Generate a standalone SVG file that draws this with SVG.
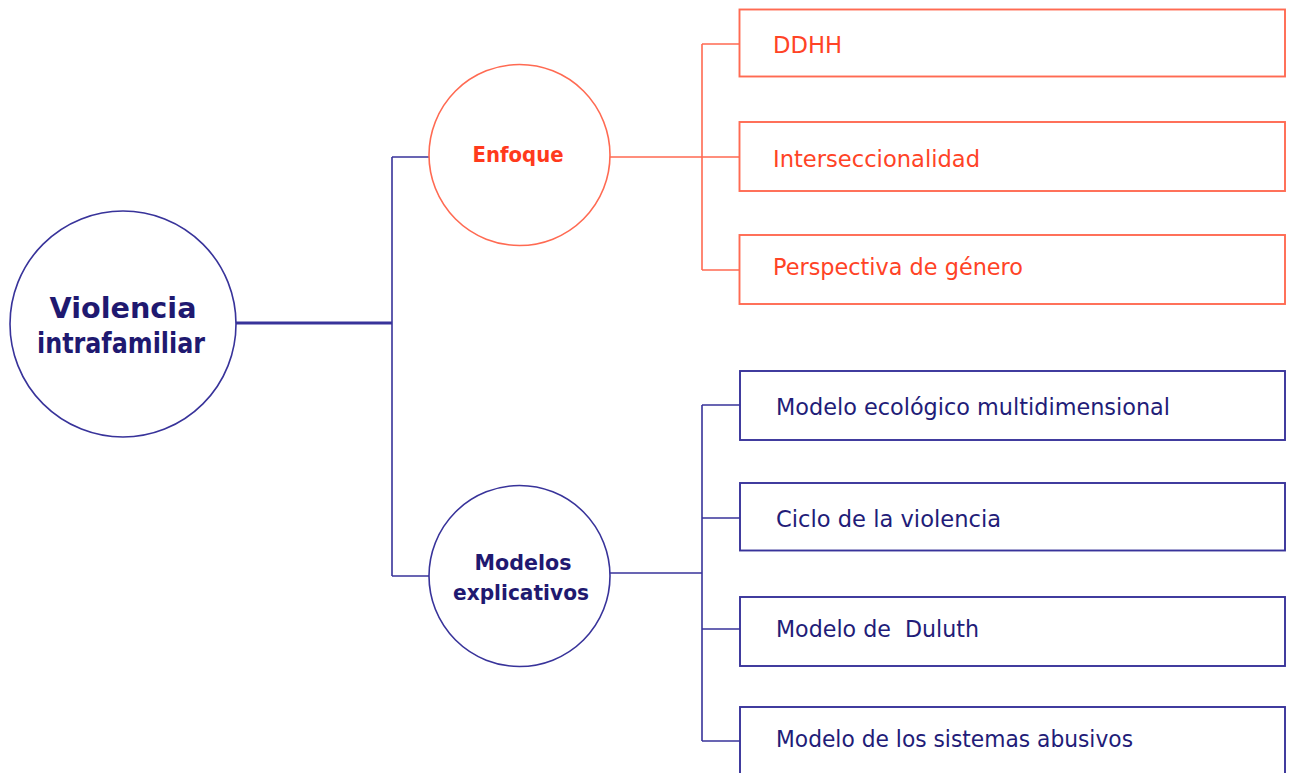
<svg xmlns="http://www.w3.org/2000/svg" width="1294" height="773" viewBox="0 0 1294 773">
<style>
.bg{fill:#ffffff}
.red{stroke:#ff6a52;fill:none;stroke-width:1.6}
.navy{stroke:#38339a;fill:none;stroke-width:1.6}
.thick{stroke-width:2.8}
.circ{fill:#ffffff}
.box{fill:#ffffff;stroke-width:1.9}
.lblR{font-family:"DejaVu Sans",Verdana,sans-serif;font-size:23px;fill:#ff4326;white-space:pre}
.lblN{font-family:"DejaVu Sans",Verdana,sans-serif;font-size:23px;fill:#221c78;white-space:pre}
.hd{font-family:"DejaVu Sans","Liberation Sans",sans-serif;font-weight:bold;text-anchor:middle}
</style>
<rect class="bg" x="0" y="0" width="1294" height="773"/>
<g id="connectors">
  <path class="navy thick" d="M236,323 H392"/>
  <path class="navy" d="M392,157 V576 M392,157 H429 M392,576 H429"/>
  <path class="red" d="M610,157 H740 M702,44 V270 M702,44 H740 M702,270 H740"/>
  <path class="navy" d="M610,573 H702 M702,405 V741 M702,405 H740 M702,518 H740 M702,629 H740 M702,741 H740"/>
</g>
<g id="root">
  <circle class="navy circ" cx="123" cy="324" r="113"/>
  <text class="hd" x="123" y="318" font-size="29" fill="#1f1970" textLength="147" lengthAdjust="spacingAndGlyphs">Violencia</text>
  <text class="hd" x="121" y="353" font-size="29" fill="#1f1970" textLength="168" lengthAdjust="spacingAndGlyphs">intrafamiliar</text>
</g>
<g id="enfoque">
  <circle class="red circ" cx="519.5" cy="155" r="90.5"/>
  <text class="hd" x="518" y="161.5" font-size="22" fill="#ff3a1c" textLength="91" lengthAdjust="spacingAndGlyphs">Enfoque</text>
</g>
<g id="modelos">
  <circle class="navy circ" cx="519.5" cy="576" r="90.5"/>
  <text class="hd" x="523" y="570" font-size="22" fill="#1f1970" textLength="97" lengthAdjust="spacingAndGlyphs">Modelos</text>
  <text class="hd" x="521" y="600" font-size="22" fill="#1f1970" textLength="136" lengthAdjust="spacingAndGlyphs">explicativos</text>
</g>
<g id="ddhh">
  <rect class="red box" x="739.5" y="9.5" width="545.5" height="67"/>
  <text class="lblR" x="773" y="53" textLength="69" lengthAdjust="spacingAndGlyphs">DDHH</text>
</g>
<g id="interseccionalidad">
  <rect class="red box" x="739.5" y="122" width="545.5" height="69"/>
  <text class="lblR" x="773" y="166.5" textLength="207" lengthAdjust="spacingAndGlyphs">Interseccionalidad</text>
</g>
<g id="perspectiva">
  <rect class="red box" x="739.5" y="235" width="545.5" height="69"/>
  <text class="lblR" x="773" y="275" textLength="250" lengthAdjust="spacingAndGlyphs">Perspectiva de género</text>
</g>
<g id="ecologico">
  <rect class="navy box" x="740" y="371" width="545" height="69"/>
  <text class="lblN" x="776" y="415" textLength="394" lengthAdjust="spacingAndGlyphs">Modelo ecológico multidimensional</text>
</g>
<g id="ciclo">
  <rect class="navy box" x="740" y="483" width="545" height="67.5"/>
  <text class="lblN" x="776" y="527" textLength="225" lengthAdjust="spacingAndGlyphs">Ciclo de la violencia</text>
</g>
<g id="duluth">
  <rect class="navy box" x="740" y="597" width="545" height="69"/>
  <text class="lblN" x="776" y="637" textLength="203" lengthAdjust="spacingAndGlyphs" xml:space="preserve">Modelo de  Duluth</text>
</g>
<g id="abusivos">
  <rect class="navy box" x="740" y="707" width="545" height="100"/>
  <text class="lblN" x="776" y="747" textLength="357" lengthAdjust="spacingAndGlyphs">Modelo de los sistemas abusivos</text>
</g>
</svg>
